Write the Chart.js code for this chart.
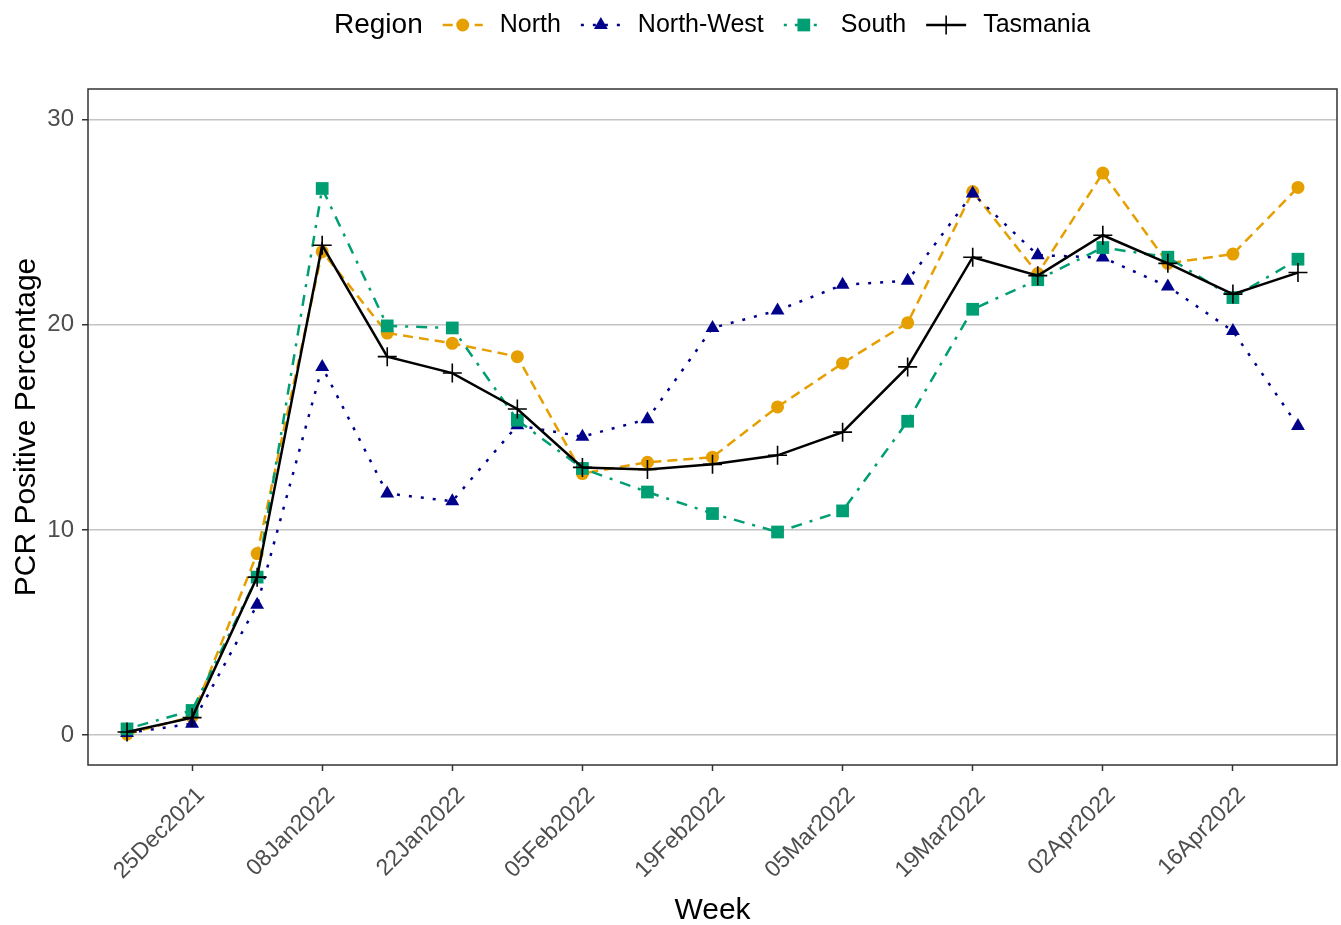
<!DOCTYPE html>
<html>
<head>
<meta charset="utf-8">
<script src="https://cdn.jsdelivr.net/npm/chart.js@4.4.0/dist/chart.umd.min.js"></script>
<style>
html,body{margin:0;padding:0;background:#fff;}
</style>
</head>
<body>
<canvas id="pcr" width="1341" height="925"></canvas>
<script>
// weekly PCR positivity by region
const weeks = [
"18Dec2021","25Dec2021","01Jan2022","08Jan2022","15Jan2022","22Jan2022",
"29Jan2022","05Feb2022","12Feb2022","19Feb2022","26Feb2022","05Mar2022",
"12Mar2022","19Mar2022","26Mar2022","02Apr2022","09Apr2022","16Apr2022","23Apr2022"
];
const labelledWeeks = [1,3,5,7,9,11,13,15,17];
const yTicks = [0,10,20,30];

const north = [0.05,0.9,8.85,23.57,19.6,19.1,18.45,12.75,13.3,13.55,16.0,18.13,20.1,26.5,22.5,27.4,23.0,23.45,26.7];
const northWest = [0.1,0.55,6.35,17.95,11.78,11.4,15.1,14.55,15.4,19.85,20.7,21.95,22.15,26.4,23.4,23.28,21.87,19.7,15.07];
const south = [0.3,1.2,7.7,26.65,19.95,19.85,15.35,13.0,11.85,10.8,9.9,10.93,15.3,20.76,22.2,23.77,23.3,21.33,23.2];
const tasmania = [0.15,0.85,7.7,23.88,18.45,17.65,15.9,13.05,12.95,13.2,13.64,14.77,17.95,23.3,22.4,24.37,23.0,21.5,22.55];

const FONT = '"Liberation Sans", Arial, sans-serif';
Chart.defaults.font.family = FONT;

function pts(arr){
return arr.map((v,i)=>({x:i,y:v}));
}

function series(label,arr,color,dash,style,radius,order){
return {
label:label,
data:pts(arr),
borderColor:color,
backgroundColor:color,
borderWidth:2.5,
borderDash:dash,
pointStyle:style,
pointRadius:radius,
pointBackgroundColor:color,
pointBorderColor:color,
pointBorderWidth:style==="cross"?1.6:0,
tension:0,
order:order
};
}

function marker(ctx,style,x,y,r,color){
ctx.save();
ctx.fillStyle=color;
ctx.strokeStyle=color;
ctx.lineWidth=1.6;
ctx.setLineDash([]);
ctx.beginPath();
if(style==="circle"){
ctx.arc(x,y,r,0,Math.PI*2);
ctx.fill();
}else if(style==="rect"){
const s=r*Math.SQRT1_2;
ctx.fillRect(x-s,y-s,2*s,2*s);
}else if(style==="triangle"){
let a=0;
ctx.moveTo(x+Math.sin(a)*r,y-Math.cos(a)*r);
a+=Math.PI*2/3;
ctx.lineTo(x+Math.sin(a)*r,y-Math.cos(a)*r);
a+=Math.PI*2/3;
ctx.lineTo(x+Math.sin(a)*r,y-Math.cos(a)*r);
ctx.closePath();
ctx.fill();
}else{
ctx.moveTo(x-r,y);ctx.lineTo(x+r,y);
ctx.moveTo(x,y-r);ctx.lineTo(x,y+r);
ctx.stroke();
}
ctx.restore();
}

// panel border plus the "Region" legend along the top
const decor = {
id:"decor",
afterDraw(chart){
const ctx=chart.ctx;
const a=chart.chartArea;
ctx.save();
ctx.strokeStyle="#333333";
ctx.lineWidth=1.5;
ctx.strokeRect(a.left,a.top,a.right-a.left,a.bottom-a.top);

const y=25;
let x=334;
ctx.fillStyle="#000";
ctx.textBaseline="middle";
ctx.textAlign="left";
ctx.font="28px "+FONT;
ctx.fillText("Region",x,y);
x+=ctx.measureText("Region").width+20;

const sets=chart.data.datasets;
ctx.font="25px "+FONT;
sets.forEach(ds=>{
ctx.save();
ctx.strokeStyle=ds.borderColor;
ctx.lineWidth=ds.borderWidth;
ctx.setLineDash(ds.borderDash);
ctx.beginPath();
ctx.moveTo(x,y);
ctx.lineTo(x+40,y);
ctx.stroke();
ctx.restore();
marker(ctx,ds.pointStyle,x+20,y,ds.pointRadius,ds.borderColor);
x+=57;
ctx.fillStyle="#000";
ctx.fillText(ds.label,x,y);
x+=ctx.measureText(ds.label).width+20;
});
ctx.restore();
}
};

const chart = new Chart(document.getElementById("pcr"),{
type:"line",
data:{
datasets:[
series("North",north,"#E69F00",[10,6],"circle",6.5,3),
series("North-West",northWest,"#00008B",[3,9],"triangle",8,2),
series("South",south,"#009E73",[3,8,11,8],"rect",9,1),
series("Tasmania",tasmania,"#000000",[],"cross",9.5,0)
]
},
options:{
responsive:false,
animation:false,
layout:{autoPadding:false,padding:{top:89,right:4,left:0,bottom:0}},
plugins:{
legend:{display:false},
tooltip:{enabled:false}
},
scales:{
x:{
type:"linear",
min:-0.6,
max:18.6,
afterBuildTicks:s=>{s.ticks=labelledWeeks.map(v=>({value:v}));},
afterFit:s=>{s.height=160;s.paddingLeft=0;s.paddingRight=0;},
border:{display:false},
grid:{drawOnChartArea:false,tickLength:6,tickColor:"#333333",tickWidth:1.5},
ticks:{
autoSkip:false,
minRotation:45,
maxRotation:45,
padding:11,
labelOffset:9,
color:"#4D4D4D",
font:{size:23},
callback:v=>weeks[v]
},
title:{
display:true,
text:"Week",
color:"#000",
font:{size:30},
padding:{top:0,bottom:-4}
}
},
y:{
min:-1.46,
max:31.5,
afterBuildTicks:s=>{s.ticks=yTicks.map(v=>({value:v}));},
afterFit:s=>{s.width=88;},
border:{display:false},
grid:{color:"#C4C4C4",lineWidth:1.5,tickLength:6,tickColor:"#333333",tickWidth:1.5},
ticks:{
padding:8,
color:"#4D4D4D",
font:{size:24}
},
title:{
display:true,
text:"PCR Positive Percentage",
color:"#000",
font:{size:30},
padding:{top:9,bottom:0}
}
}
}
},
plugins:[decor]
});
</script>
</body>
</html>
